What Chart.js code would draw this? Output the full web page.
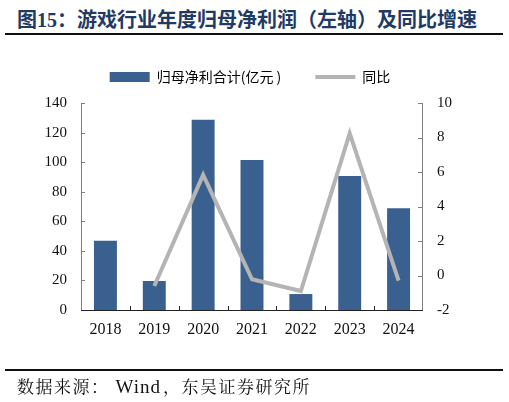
<!DOCTYPE html>
<html>
<head>
<meta charset="utf-8">
<script src="https://cdn.jsdelivr.net/npm/chart.js@4"></script>
<style>
  html, body { margin: 0; padding: 0; background: #fff; }
  #wrap { position: relative; width: 509px; height: 402px; overflow: hidden; }
  #title { position: absolute; left: 17px; top: 4px; font: bold 20px "Noto Sans CJK SC", sans-serif; color: #1f3a64; white-space: nowrap; }
  #title .num { font-family: "Liberation Serif", serif; }
  .rule { position: absolute; left: 5px; width: 498px; height: 2px; background: #111; }
  #source { position: absolute; left: 17px; top: 373px; font: 17px "Noto Serif CJK SC", "Noto Sans CJK SC", serif; color: #111; white-space: nowrap; letter-spacing: 1.5px; }
  #source .en { font-family: "Liberation Serif", serif; font-size: 19px; letter-spacing: 1px; margin-left: 6px; margin-right: 2px; }
  canvas { position: absolute; left: 0; top: 0; }
</style>
</head>
<body>
<div id="wrap">
  <div id="title">图<span class="num">15</span>：游戏行业年度归母净利润（左轴）及同比增速</div>
  <div class="rule" style="top:33px"></div>
  <canvas id="chart" width="509" height="402"></canvas>
  <div class="rule" style="top:369px"></div>
  <div id="source">数据来源：<span class="en">Wind</span>，东吴证券研究所</div>
</div>
<script>
const years = ['2018', '2019', '2020', '2021', '2022', '2023', '2024'];
const netProfit = [46.8, 19.6, 128.6, 101.4, 10.8, 90.6, 68.8];
const yoyGrowth = [null, -0.61, 5.83, -0.22, -0.90, 8.24, -0.30];
const leftTicks = [0, 20, 40, 60, 80, 100, 120, 140];
const rightTicks = [-2, 0, 2, 4, 6, 8, 10];

const yFont = { family: 'Liberation Serif', size: 15 };
const xFont = { family: 'Liberation Serif', size: 16 };

// ticks drawn inward, like the original
const innerTicks = {
  id: 'innerTicks',
  afterDraw(chart) {
    const ctx = chart.ctx;
    const a = chart.chartArea;
    const y = chart.scales.y, y1 = chart.scales.y1;
    ctx.save();
    ctx.lineWidth = 1;
    ctx.strokeStyle = '#808080';
    ctx.beginPath();
    ctx.moveTo(a.left + 0.5, a.top);
    ctx.lineTo(a.left + 0.5, a.bottom);
    ctx.moveTo(a.right - 0.5, a.top);
    ctx.lineTo(a.right - 0.5, a.bottom);
    y.ticks.forEach((t, i) => {
      const py = Math.round(y.getPixelForTick(i)) + 0.5;
      ctx.moveTo(a.left, py); ctx.lineTo(a.left + 4, py);
    });
    y1.ticks.forEach((t, i) => {
      const py = Math.round(y1.getPixelForTick(i)) + 0.5;
      ctx.moveTo(a.right, py); ctx.lineTo(a.right - 5, py);
    });
    ctx.stroke();
    ctx.strokeStyle = '#222';
    ctx.beginPath();
    ctx.moveTo(a.left, Math.round(a.bottom) + 0.5);
    ctx.lineTo(a.right, Math.round(a.bottom) + 0.5);
    const step = (a.right - a.left) / years.length;
    for (let i = 1; i < years.length; i++) {
      const px = Math.round(a.left + i * step) + 0.5;
      ctx.moveTo(px, a.bottom); ctx.lineTo(px, a.bottom - 4);
    }
    ctx.stroke();
    ctx.restore();
  }
};

// lift the legend a little above where chart.js puts it
const legendLift = {
  id: 'legendLift',
  afterLayout(chart) {
    chart.legend.top -= 9;
    chart.legend.bottom -= 9;
  }
};

new Chart(document.getElementById('chart'), {
  data: {
    labels: years,
    datasets: [
      {
        type: 'line',
        label: '同比',
        data: yoyGrowth,
        yAxisID: 'y1',
        borderColor: '#b4b4b4',
        backgroundColor: '#b4b4b4',
        borderWidth: 4,
        pointRadius: 0,
        tension: 0,
        fill: false,
        order: 0
      },
      {
        type: 'bar',
        label: '归母净利合计(亿元 )',
        data: netProfit,
        yAxisID: 'y',
        backgroundColor: '#3a6090',
        borderWidth: 0,
        barPercentage: 0.47,
        categoryPercentage: 1,
        order: 1
      }
    ]
  },
  options: {
    responsive: false,
    animation: false,
    layout: { padding: { left: 0, right: 9, top: 45, bottom: 0 } },
    plugins: {
      tooltip: { enabled: false },
      legend: {
        reverse: true,
        labels: {
          usePointStyle: true,
          pointStyleWidth: 40,
          boxHeight: 10,
          padding: 34,
          color: '#111',
          font: { family: 'Noto Sans CJK SC', size: 14 },
          generateLabels(chart) {
            return chart.data.datasets.map((ds, i) => ({
              text: ds.label,
              fillStyle: ds.backgroundColor,
              strokeStyle: ds.type === 'line' ? ds.borderColor : ds.backgroundColor,
              lineWidth: ds.type === 'line' ? 4 : 0,
              pointStyle: ds.type === 'line' ? 'line' : 'rect',
              datasetIndex: i,
              hidden: false
            }));
          }
        }
      }
    },
    scales: {
      x: {
        offset: true,
        grid: { display: false, drawTicks: false },
        border: { display: false },
        ticks: { color: '#111', font: xFont, padding: 10 },
        afterFit(s) { s.height = 92; }
      },
      y: {
        position: 'left',
        min: 0, max: 140,
        afterBuildTicks(s) { s.ticks = leftTicks.map(v => ({ value: v })); },
        grid: { display: false, drawTicks: false },
        border: { display: false },
        ticks: { color: '#111', font: yFont, padding: 14 },
        afterFit(s) { s.width = 81; }
      },
      y1: {
        position: 'right',
        min: -2, max: 10,
        afterBuildTicks(s) { s.ticks = rightTicks.map(v => ({ value: v })); },
        grid: { display: false, drawTicks: false },
        border: { display: false },
        ticks: { color: '#111', font: yFont, padding: 14 },
        afterFit(s) { s.width = 77; }
      }
    }
  },
  plugins: [innerTicks, legendLift]
});
</script>
</body>
</html>
